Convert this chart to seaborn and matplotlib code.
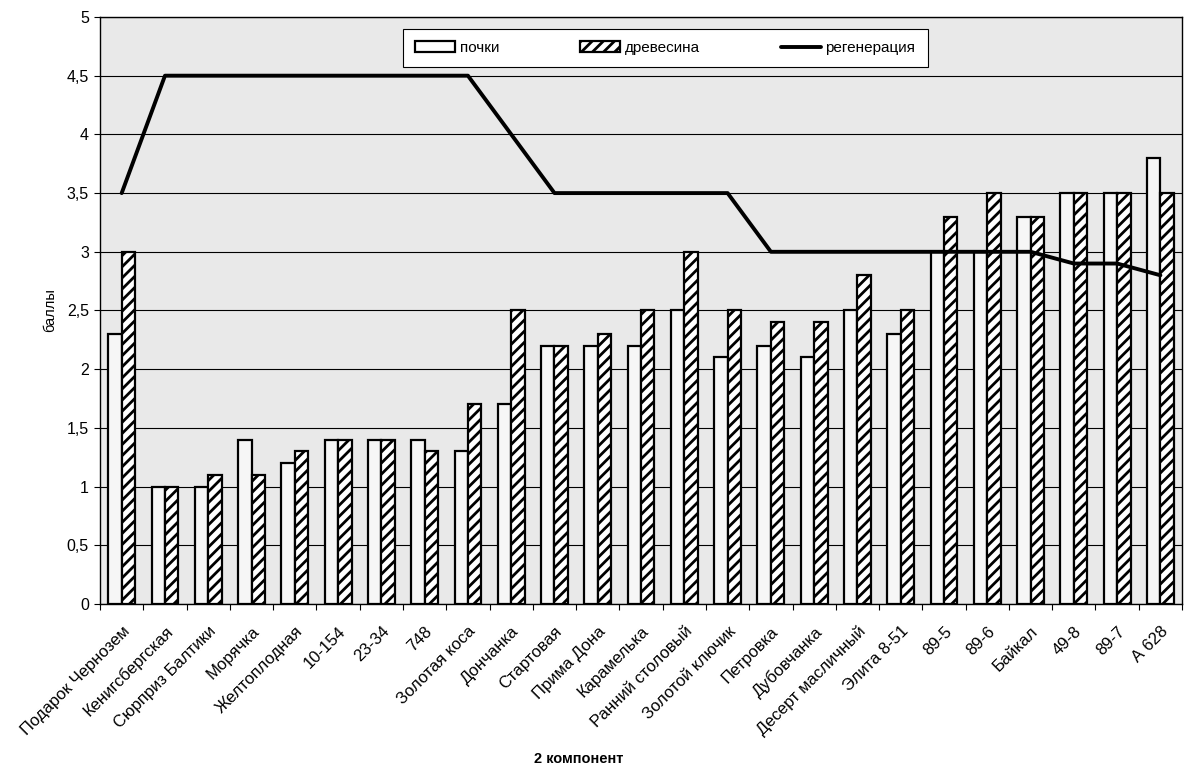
import numpy as np
import pandas as pd
import matplotlib
matplotlib.use("Agg")
import matplotlib.pyplot as plt
from matplotlib.patches import Patch
from matplotlib.lines import Line2D
from matplotlib.ticker import FixedLocator, FuncFormatter
import seaborn as sns

# --- data -------------------------------------------------------------
varieties = [
    "Подарок Чернозем", "Кенигсбергская", "Сюрприз Балтики", "Морячка",
    "Желтоплодная", "10-154", "23-34", "748", "Золотая коса", "Дончанка",
    "Стартовая", "Прима Дона", "Карамелька", "Ранний столовый",
    "Золотой ключик", "Петровка", "Дубовчанка", "Десерт масличный",
    "Элита 8-51", "89-5", "89-6", "Байкал", "49-8", "89-7", "А 628",
]
buds = [2.3, 1.0, 1.0, 1.4, 1.2, 1.4, 1.4, 1.4, 1.3, 1.7,
        2.2, 2.2, 2.2, 2.5, 2.1, 2.2, 2.1, 2.5, 2.3, 3.0,
        3.0, 3.3, 3.5, 3.5, 3.8]
wood = [3.0, 1.0, 1.1, 1.1, 1.3, 1.4, 1.4, 1.3, 1.7, 2.5,
        2.2, 2.3, 2.5, 3.0, 2.5, 2.4, 2.4, 2.8, 2.5, 3.3,
        3.5, 3.3, 3.5, 3.5, 3.5]
regeneration = [3.5, 4.5, 4.5, 4.5, 4.5, 4.5, 4.5, 4.5, 4.5, 4.0,
                3.5, 3.5, 3.5, 3.5, 3.5, 3.0, 3.0, 3.0, 3.0, 3.0,
                3.0, 3.0, 2.9, 2.9, 2.8]
series_names = ["почки", "древесина", "регенерация"]
y_ticks = [0, 0.5, 1, 1.5, 2, 2.5, 3, 3.5, 4, 4.5, 5]

df = pd.DataFrame({
    "сорт": varieties * 2,
    "балл": buds + wood,
    "показатель": [series_names[0]] * len(varieties) + [series_names[1]] * len(varieties),
})

# --- figure -------------------------------------------------------------
sns.set_theme(style="white")
plt.rcParams["font.family"] = ["Liberation Sans", "DejaVu Sans"]
plt.rcParams["hatch.linewidth"] = 2.0
plt.rcParams["hatch.color"] = "black"
for key in ["text.color", "axes.labelcolor", "xtick.color", "ytick.color"]:
    plt.rcParams[key] = "black"

fig = plt.figure(figsize=(11.94, 7.72), dpi=100)
ax = fig.add_axes([0.0838, 0.2176, 0.9062, 0.7604])
ax.set_facecolor("#e9e9e9")

sns.barplot(
    data=df, x="сорт", y="балл", hue="показатель", order=varieties,
    hue_order=series_names[:2], palette=["#f6f6f6", "white"],
    width=0.62, gap=0.0, edgecolor="black", linewidth=1.6,
    legend=False, ax=ax, zorder=2,
)
for bar in ax.containers[1]:
    bar.set_hatch("///")

sns.lineplot(x=np.arange(len(varieties)), y=regeneration, color="black",
             linewidth=2.8, ax=ax, zorder=3)

# axes, grid and ticks
ax.set_xlim(-0.5, len(varieties) - 0.5)
ax.set_ylim(0, 5)
ax.yaxis.set_major_locator(FixedLocator(y_ticks))
ax.yaxis.set_major_formatter(FuncFormatter(lambda v, _: f"{v:g}".replace(".", ",")))
ax.grid(axis="y", color="black", linewidth=0.8, zorder=0)
ax.set_axisbelow(True)
for side in ["left", "right", "top", "bottom"]:
    ax.spines[side].set_visible(True)
    ax.spines[side].set_color("black")
    ax.spines[side].set_linewidth(1.0)

ax.set_xticks(np.arange(len(varieties)))
ax.set_xticklabels(varieties, rotation=45, ha="right", rotation_mode="anchor",
                   fontsize=12)
ax.xaxis.set_minor_locator(FixedLocator(np.arange(len(varieties) + 1) - 0.5))
ax.tick_params(axis="x", which="major", length=0, pad=14)
ax.tick_params(axis="x", which="minor", length=4, width=0.8, direction="out",
               bottom=True, color="black")
ax.tick_params(axis="y", length=4, width=0.8, direction="out", left=True,
               labelsize=11.5, pad=4, color="black")

ax.set_xlabel("2 компонент", fontsize=10.5, fontweight="bold")
ax.xaxis.set_label_coords(0.442, -0.252)
ax.set_ylabel("баллы", fontsize=10.5)
ax.yaxis.set_label_coords(-0.040, 0.5)

# legend
handles = [
    Patch(facecolor="white", edgecolor="black", linewidth=1.6),
    Patch(facecolor="white", edgecolor="black", linewidth=1.6, hatch="///"),
    Line2D([0], [0], color="black", linewidth=2.8),
]
leg = ax.legend(handles, series_names, ncol=3, loc="upper left",
                bbox_to_anchor=(0.273, 0.993, 0.499, 0.0), mode="expand",
                frameon=True, fancybox=False, fontsize=11, handlelength=2.6,
                handleheight=0.7, handletextpad=0.3, borderpad=0.8,
                columnspacing=4.0)
leg.get_frame().set_edgecolor("black")
leg.get_frame().set_linewidth(0.8)
leg.get_frame().set_facecolor("white")
leg.get_frame().set_alpha(1.0)

fig.savefig("out.png", dpi=100)
